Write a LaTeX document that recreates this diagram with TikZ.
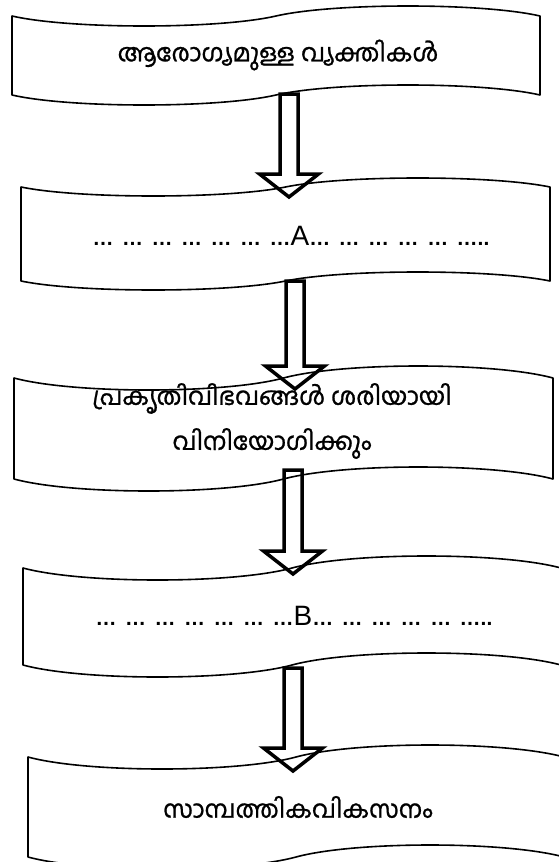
\documentclass[tikz,border=0pt]{standalone}
\usepackage{fontspec}
\setmainfont{Liberation Sans}
\newfontfamily\malfont[Script=Malayalam,FakeBold=1]{Hind Kochi}
\usetikzlibrary{calc}
\tikzset{
  tapeline/.style={line width=1.6pt, line join=round},
  blockarrow/.style={line width=3.5pt, line join=miter, miter limit=10},
  maltext/.style={font=\malfont\fontsize{24.5}{45}\selectfont, align=center, inner sep=0pt},
  dottext/.style={font=\fontsize{21}{25}\selectfont, inner sep=0pt},
}
\newcommand\el{{\bfseries …}\kern8.5pt}
\newcommand\bigletter[1]{{\fontsize{28}{28}\selectfont #1}}
% L R ytop ybot amplitude
\newcommand\tapebox[5]{%
  \pgfmathsetmacro\mm{(#1+#2)/2}%
  \pgfmathsetmacro\hq{0.22*(#2-#1)/2}%
  \pgfmathsetmacro\aa{4*#5/3}%
  \draw[tapeline] (#1,#3) .. controls (#1+\hq,#3+\aa) and (\mm-\hq,#3+\aa) .. (\mm,#3)
     .. controls (\mm+\hq,#3-\aa) and (#2-\hq,#3-\aa) .. (#2,#3)
     -- (#2,#4) .. controls (#2-\hq,#4-\aa) and (\mm+\hq,#4-\aa) .. (\mm,#4)
     .. controls (\mm-\hq,#4+\aa) and (#1+\hq,#4+\aa) .. (#1,#4) -- cycle;}
\newcommand\blockarr[2]{%
  \draw[blockarrow] let \p1=(#1), \p2=(#2) in
   ({\x1-9pt},\y1) -- ({\x1-9pt},{\y2+23pt}) -- ({\x1-29.5pt},{\y2+23pt})
   -- (\x1,\y2) -- ({\x1+29.5pt},{\y2+23pt}) -- ({\x1+9pt},{\y2+23pt})
   -- ({\x1+9pt},\y1) -- cycle;}
\begin{document}
\begin{tikzpicture}[x=1pt,y=-1pt]
\useasboundingbox[fill=white] (0,0) rectangle (558,862);
% boxes
\tapebox{12}{540}{16}{95}{10}
\tapebox{21}{550}{187}{281}{9}
\tapebox{14}{553}{378}{479}{12}
\tapebox{23}{561}{568}{665}{12}
\tapebox{28}{564}{757}{857}{12}
% texts
\node[maltext] (t1) at (278,55) {ആരോഗ്യമുള്ള വ്യക്തികൾ};
\node[dottext] (t2) at (291,236) {\el\el\el\el\el\el{\bfseries …}\bigletter{A}\el\el\el\el\el{\bfseries …..}};
\node[maltext] (t3) at (272,421) {പ്രകൃതിവിഭവങ്ങൾ ശരിയായി\\വിനിയോഗിക്കും};
\node[dottext] (t4) at (294,616) {\el\el\el\el\el\el{\bfseries …}\bigletter{B}\el\el\el\el\el{\bfseries …..}};
\node[maltext] (t5) at (298,807) {സാമ്പത്തികവികസനം};
% arrow ends
\coordinate (o1) at (289,94);  \coordinate (i2) at (289,197);
\coordinate (o2) at (295,281); \coordinate (i3) at (295,389);
\coordinate (o3) at (293,470); \coordinate (i4) at (293,574);
\coordinate (o4) at (293,668); \coordinate (i5) at (293,771);
\blockarr{o1}{i2}
\blockarr{o2}{i3}
\blockarr{o3}{i4}
\blockarr{o4}{i5}
\end{tikzpicture}
\end{document}
